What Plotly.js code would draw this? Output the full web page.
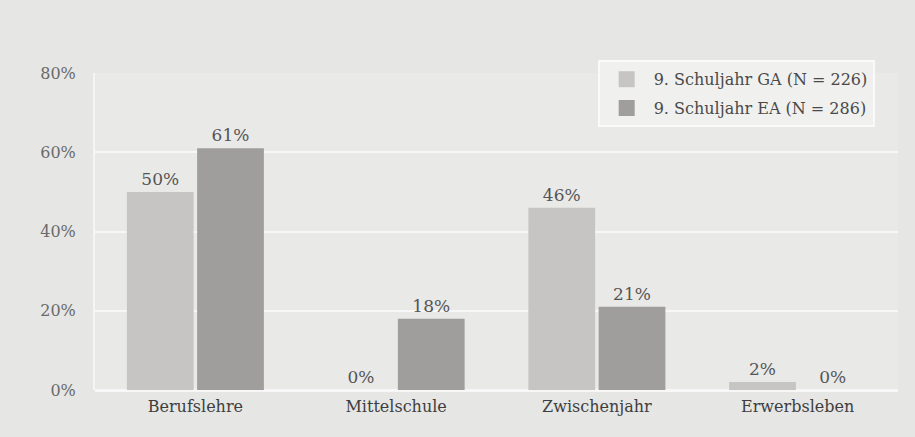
<!DOCTYPE html>
<html>
<head>
<meta charset="utf-8">
<script src="https://cdn.plot.ly/plotly-3.0.1.min.js"></script>
<style>html,body{margin:0;padding:0;background:#e6e6e5;}</style>
</head>
<body>
<div id="chart" style="width:915px;height:437px;"></div>
<script>
const categories = ["Berufslehre", "Mittelschule", "Zwischenjahr", "Erwerbsleben"];
const seriesGA = [50, 0, 46, 2];
const seriesEA = [61, 18, 21, 0];
const nameGA = "9. Schuljahr GA (N = 226)";
const nameEA = "9. Schuljahr EA (N = 286)";
const yTicks = [0, 20, 40, 60, 80];

const serif = "DejaVu Serif, serif";
const colGA = "#c6c5c3", colEA = "#9f9e9c";
const valFont = {family: serif, size: 17, color: "#555"};
const traces = [
  {type: "bar", name: nameGA, x: categories, y: seriesGA, showlegend: false,
   marker: {color: colGA}, text: seriesGA.map(v => v + "%"), texttemplate: "%{text}",
   textposition: "outside", cliponaxis: false, textfont: valFont},
  {type: "bar", name: nameEA, x: categories, y: seriesEA, showlegend: false,
   marker: {color: colEA}, text: seriesEA.map(v => v + "%"), texttemplate: "%{text}",
   textposition: "outside", cliponaxis: false, textfont: valFont},
  {type: "scatter", mode: "markers", name: nameGA, x: [categories[0]], y: [null],
   legendgroup: "a", marker: {symbol: "square", size: 16, color: colGA}, showlegend: true},
  {type: "scatter", mode: "markers", name: nameEA, x: [categories[0]], y: [null],
   legendgroup: "b", marker: {symbol: "square", size: 16, color: colEA}, showlegend: true}
];
const layout = {
  width: 915, height: 437,
  paper_bgcolor: "#e6e6e5", plot_bgcolor: "#e9e9e8",
  margin: {l: 95, r: 17, t: 73, b: 47},
  barmode: "group", bargap: 0.3, bargroupgap: 0.05,
  font: {family: serif, color: "#444"},
  xaxis: {tickfont: {family: serif, size: 16, color: "#3e3e3e"}, showline: false, ticks: "", ticklabelstandoff: 5},
  yaxis: {range: [0, 80], tickvals: yTicks, ticktext: yTicks.map(v => v + "%"),
          tickfont: {family: serif, size: 16, color: "#6a6a6a"},
          gridcolor: "#f7f7f7", gridwidth: 2, zeroline: true, zerolinecolor: "#f7f7f7", zerolinewidth: 3,
          showline: true, linecolor: "#f5f5f5", linewidth: 2, ticklabelstandoff: 14},
  legend: {x: 0.626, y: 1.04, xanchor: "left", yanchor: "top",
           bgcolor: "#f0f0ef", bordercolor: "#fafafa", borderwidth: 2,
           traceorder: "grouped", tracegroupgap: 5,
           font: {family: serif, size: 16, color: "#4a4a4a"}, itemwidth: 44},
  showlegend: true
};
Plotly.newPlot("chart", traces, layout, {displayModeBar: false, staticPlot: true});
</script>
</body>
</html>
